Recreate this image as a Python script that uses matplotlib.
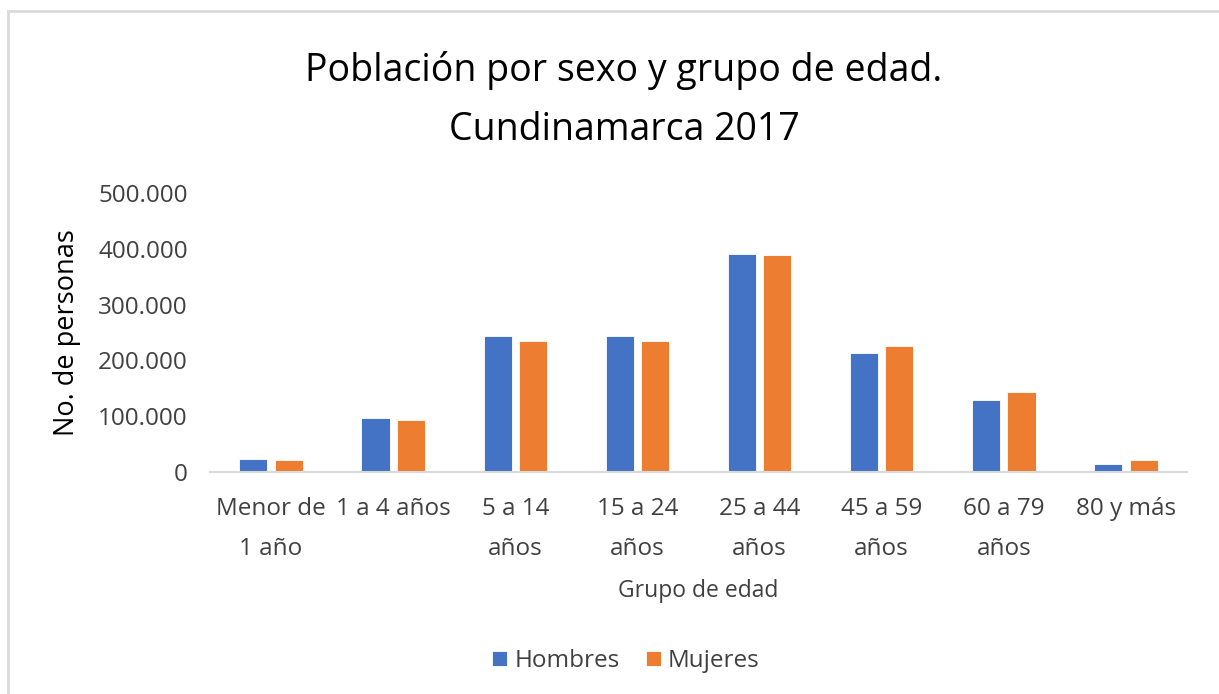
import matplotlib
matplotlib.use('Agg')
import matplotlib.pyplot as plt
import numpy as np
from matplotlib.patches import Rectangle
from matplotlib.ticker import FuncFormatter

categorias = ['Menor de\n1 año', '1 a 4 años', '5 a 14\naños', '15 a 24\naños',
              '25 a 44\naños', '45 a 59\naños', '60 a 79\naños', '80 y más']
hombres = [23500, 97000, 244000, 244000, 391000, 213500, 128500, 14000]
mujeres = [21500, 92500, 235000, 235000, 389000, 225000, 143000, 21000]

plt.rcParams['font.family'] = ['Open Sans', 'DejaVu Sans']
txt = '#404040'

fig = plt.figure(figsize=(12.19, 6.94), dpi=100)
# chart border
fig.patches.append(Rectangle((8/1219, -0.05), 1.1, 1 - 11/694 + 0.05, transform=fig.transFigure,
                             fill=False, edgecolor='#d9d9d9', linewidth=2))

ax = fig.add_axes([210/1219, 1 - 472/694, 977/1219, (472 - 193)/694])

x = np.arange(len(categorias))
w = 0.23
ax.bar(x - 0.145, hombres, w, color='#4472c4', edgecolor='white', linewidth=0.6, label='Hombres')
ax.bar(x + 0.145, mujeres, w, color='#ed7d31', edgecolor='white', linewidth=0.6, label='Mujeres')

ax.set_xlim(-0.5, len(categorias) - 0.5)
ax.set_ylim(0, 500000)
ax.set_yticks(np.arange(0, 500001, 100000))
ax.yaxis.set_major_formatter(FuncFormatter(lambda v, p: f'{int(v):,}'.replace(',', '.')))
ax.set_xticks(x)
ax.set_xticklabels(categorias, linespacing=1.9, va='top')

for s in ['top', 'right', 'left']:
    ax.spines[s].set_visible(False)
ax.spines['bottom'].set_color('#d9d9d9')
ax.spines['bottom'].set_linewidth(1.5)
ax.tick_params(axis='both', length=0, labelsize=17.5, colors=txt)
ax.tick_params(axis='y', pad=16)
ax.tick_params(axis='x', pad=18)

ax.set_ylabel('No. de personas', fontsize=19.5, color='black', labelpad=12)
ax.set_xlabel('Grupo de edad', fontsize=16.5, color=txt, labelpad=13)

fig.text(624/1219, 1 - 70/694, 'Población por sexo y grupo de edad.', ha='center', va='center',
         fontsize=27, color='black')
fig.text(624/1219, 1 - 130/694, 'Cundinamarca 2017', ha='center', va='center',
         fontsize=27, color='black')

fig.legend(loc='center', bbox_to_anchor=(626/1219, 1 - 661/694), ncol=2, frameon=False,
           fontsize=17.5, handlelength=0.6, handleheight=0.6, handletextpad=0.3,
           columnspacing=1.1, labelcolor=txt)

fig.savefig('out.png', dpi=100)
